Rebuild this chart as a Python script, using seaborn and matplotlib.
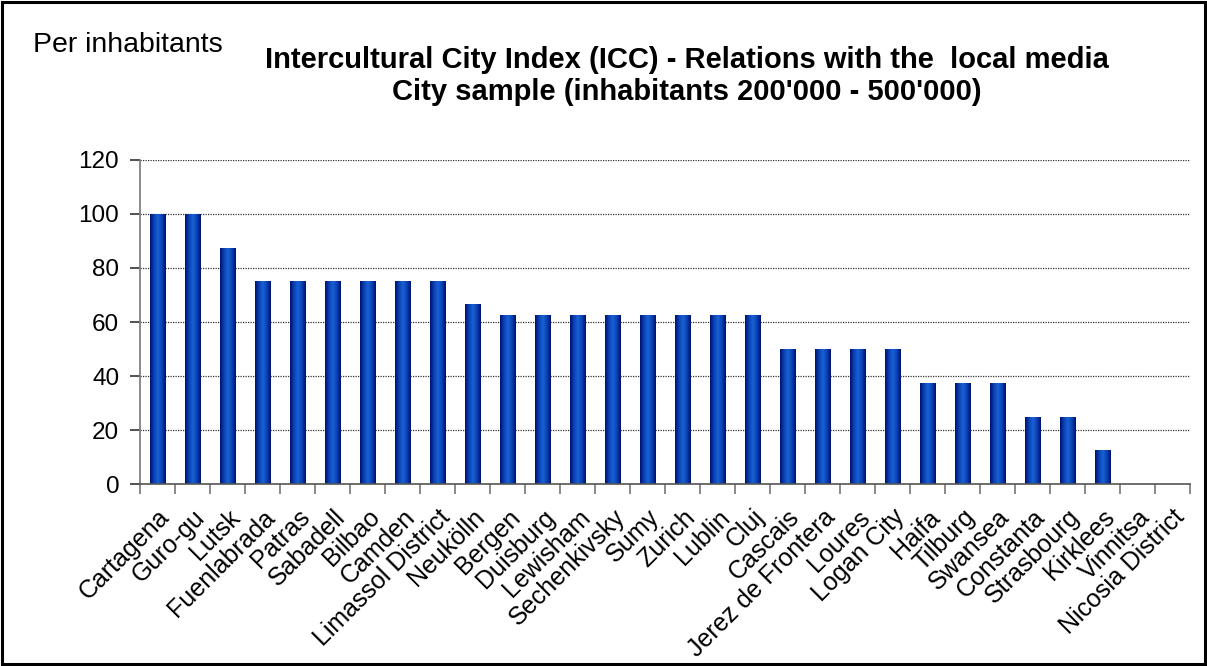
import numpy as np
import pandas as pd
import matplotlib
matplotlib.use("Agg")
import matplotlib.pyplot as plt
from matplotlib.colors import LinearSegmentedColormap
from matplotlib.patches import Rectangle
import seaborn as sns

cities = [
    "Cartagena", "Guro-gu", "Lutsk", "Fuenlabrada", "Patras", "Sabadell",
    "Bilbao", "Camden", "Limassol District", "Neukölln", "Bergen", "Duisburg",
    "Lewisham", "Sechenkivsky", "Sumy", "Zurich", "Lublin", "Cluj", "Cascais",
    "Jerez de Frontera", "Loures", "Logan City", "Haifa", "Tilburg", "Swansea",
    "Constanta", "Strasbourg", "Kirklees", "Vinnitsa", "Nicosia District",
]
scores = [
    100, 100, 87.5, 75, 75, 75, 75, 75, 75, 66.7, 62.5, 62.5, 62.5, 62.5,
    62.5, 62.5, 62.5, 62.5, 50, 50, 50, 50, 37.5, 37.5, 37.5, 25, 25, 12.5,
    0, 0,
]
yticks = [0, 20, 40, 60, 80, 100, 120]

sns.set_theme(style="white")
plt.rcParams["font.family"] = ["Liberation Sans", "DejaVu Sans"]
plt.rcParams["text.color"] = "black"
plt.rcParams["xtick.color"] = "black"
plt.rcParams["ytick.color"] = "black"

df = pd.DataFrame({"city": cities, "score": scores})

fig = plt.figure(figsize=(12.07, 6.66), dpi=100)
ax = fig.add_axes([0.116, 0.273, 0.870, 0.487])

sns.barplot(data=df, x="city", y="score", ax=ax, color="#0a3aa8",
            width=0.43, saturation=1, linewidth=0)

# horizontal gradient (dark edges, bright centre) painted into every bar
grad_cmap = LinearSegmentedColormap.from_list(
    "barshade", ["#001070", "#0a42b4", "#1a62d4", "#0a42b4", "#001070"])
grad = np.linspace(0, 1, 64).reshape(1, -1)
for patch in list(ax.patches):
    x0, y0 = patch.get_x(), patch.get_y()
    w, h = patch.get_width(), patch.get_height()
    if h <= 0:
        continue
    im = ax.imshow(grad, cmap=grad_cmap, aspect="auto",
                   extent=(x0, x0 + w, y0, y0 + h), zorder=2,
                   interpolation="bilinear")
    im.set_clip_path(patch)

ax.set_xlim(-0.5, len(cities) - 0.5)
ax.set_ylim(0, 120)
ax.set_yticks(yticks)
ax.set_yticklabels([str(v) for v in yticks], fontsize=17.5)
ax.yaxis.grid(True, color="#333333", linestyle=(0, (1, 1)), linewidth=0.9)
ax.set_axisbelow(True)

# category ticks sit between the bars
ax.set_xticks(np.arange(len(cities)))
ax.set_xticklabels(cities, rotation=45, ha="right", rotation_mode="anchor",
                   fontsize=18)
ax.tick_params(axis="x", length=0, pad=15)
ax.set_xticks(np.arange(len(cities) + 1) - 0.5, minor=True)
ax.tick_params(axis="x", which="minor", length=7, color="#777777",
               width=1.2, direction="out", bottom=True)
ax.tick_params(axis="y", length=7, color="#333333", width=1.2,
               direction="out", left=True, pad=8)

for side in ["top", "right"]:
    ax.spines[side].set_visible(False)
for side in ["left", "bottom"]:
    ax.spines[side].set_color("#777777")
    ax.spines[side].set_linewidth(1.2)
ax.spines["bottom"].set_color("#555555")

ax.set_xlabel("")
ax.set_ylabel("")

fig.text(0.569, 0.910, "Intercultural City Index (ICC) - Relations with the  local media",
         ha="center", va="center", fontsize=21, fontweight="bold")
fig.text(0.569, 0.862, "City sample (inhabitants 200'000 - 500'000)",
         ha="center", va="center", fontsize=21, fontweight="bold")
fig.text(0.027, 0.932, "Per inhabitants", ha="left", va="center", fontsize=20.5)

fig.patches.append(Rectangle((0.002, 0.003), 0.996, 0.994, transform=fig.transFigure,
                             fill=False, edgecolor="black", linewidth=2.2))

fig.savefig("out.png", dpi=100, facecolor="white")
